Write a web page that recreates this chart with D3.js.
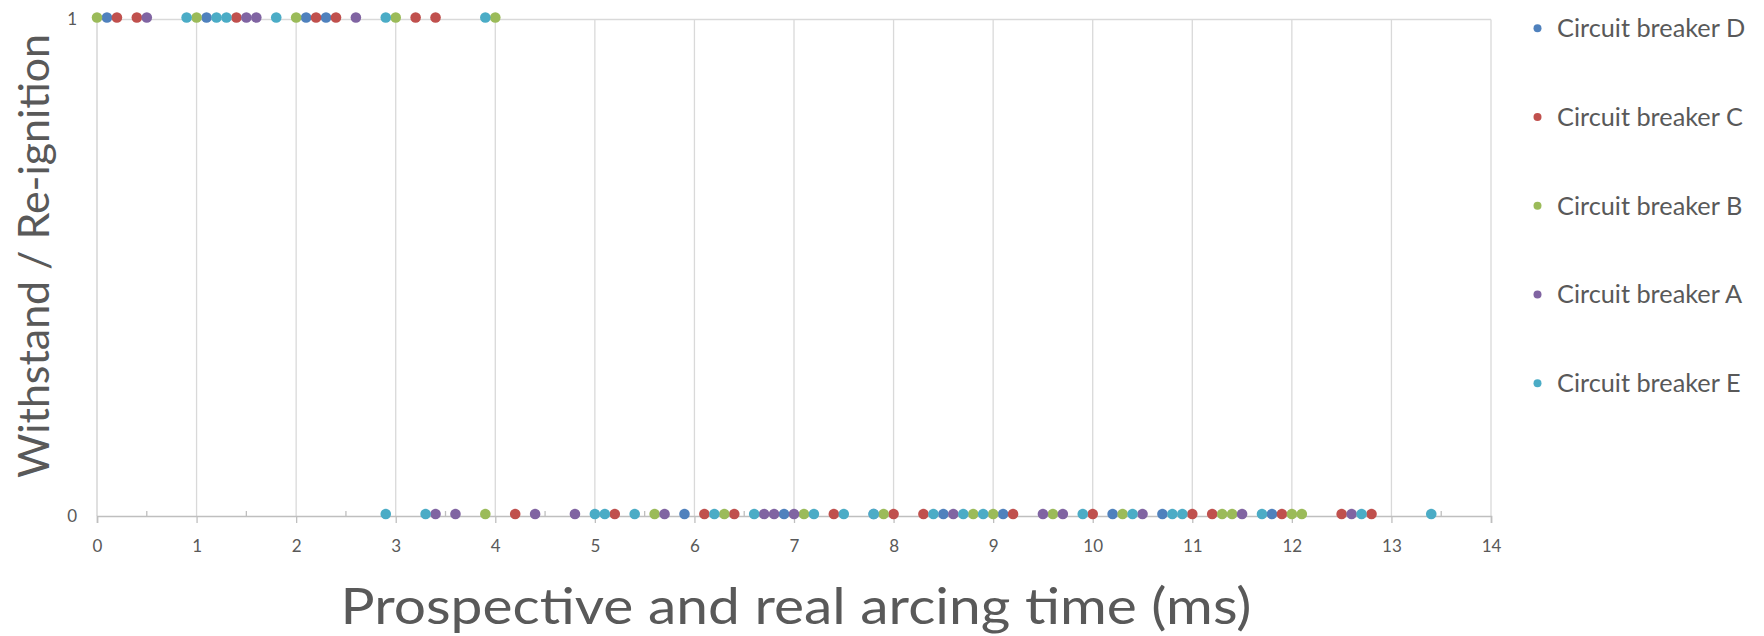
<!DOCTYPE html>
<html>
<head>
<meta charset="utf-8">
<script src="https://cdn.jsdelivr.net/npm/d3@7"></script>
<style>
  html, body { margin: 0; padding: 0; background: #ffffff; }
  svg { display: block; }
  text { font-family: Lato, "Open Sans", sans-serif; fill: #595959; }
</style>
</head>
<body>
<div id="chart"></div>
<script>
// Series, in legend order
const seriesNames = ["Circuit breaker D", "Circuit breaker C", "Circuit breaker B", "Circuit breaker A", "Circuit breaker E"];
const seriesColors = ["#4f81bd", "#c0504d", "#9bbb59", "#8064a2", "#4bacc6"];

// Arcing times (ms) with a withstand (1)
const withstandD = [0.1, 1.1, 2.1, 2.3];
const withstandC = [0.2, 0.4, 1.4, 2.2, 2.4, 3.2, 3.4];
const withstandB = [0.0, 1.0, 2.0, 3.0, 4.0];
const withstandA = [0.5, 1.5, 1.6, 2.6];
const withstandE = [0.9, 1.2, 1.3, 1.8, 2.9, 3.9];

// Arcing times (ms) with a re-ignition (0)
const reignitionD = [5.9, 6.9, 7.8, 8.5, 9.1, 10.2, 10.7, 11.8];
const reignitionC = [4.2, 5.2, 6.1, 6.4, 7.4, 8.0, 8.3, 9.2, 10.0, 11.0, 11.2, 11.9, 12.5, 12.8];
const reignitionB = [3.9, 5.6, 6.3, 7.1, 7.9, 8.8, 9.0, 9.6, 10.3, 11.3, 11.4, 12.0, 12.1];
const reignitionA = [3.4, 3.6, 4.4, 4.8, 5.7, 6.7, 6.8, 7.0, 8.6, 9.5, 9.7, 10.5, 11.5, 12.6];
const reignitionE = [2.9, 3.3, 5.0, 5.1, 5.4, 6.2, 6.6, 7.2, 7.5, 7.8, 8.4, 8.7, 8.9, 9.9, 10.4, 10.8, 10.9, 11.7, 12.7, 13.4];

const xTicks = [0, 1, 2, 3, 4, 5, 6, 7, 8, 9, 10, 11, 12, 13, 14];
const yTicks = [0, 1];
const xTitle = "Prospective and real arcing time (ms)";
const yTitle = "Withstand / Re-ignition";

const withstand = [withstandD, withstandC, withstandB, withstandA, withstandE];
const reignition = [reignitionD, reignitionC, reignitionB, reignitionA, reignitionE];

const series = seriesNames.map((name, i) => ({
  name,
  color: seriesColors[i],
  points: withstand[i].map(t => ({ x: t, y: 1 }))
    .concat(reignition[i].map(t => ({ x: t, y: 0 })))
}));

const W = 1764, H = 636;
const svg = d3.select("#chart").append("svg")
  .attr("width", W).attr("height", H);

svg.append("rect").attr("width", W).attr("height", H).attr("fill", "#ffffff");

const x = d3.scaleLinear().domain([0, 14]).range([97, 1491]);
const y = d3.scaleLinear().domain([0, 1]).range([516, 19.5]);

// Vertical gridlines
svg.append("g")
  .selectAll("line")
  .data(xTicks.filter(d => d > 0))
  .join("line")
  .attr("x1", d => x(d)).attr("x2", d => x(d))
  .attr("y1", y(0)).attr("y2", y(1))
  .attr("stroke", "#d9d9d9").attr("stroke-width", 1.3);

// Horizontal gridline at 1
svg.append("g")
  .selectAll("line")
  .data(yTicks.filter(d => d > 0))
  .join("line")
  .attr("x1", x(0)).attr("x2", x(14))
  .attr("y1", d => y(d)).attr("y2", d => y(d))
  .attr("stroke", "#d9d9d9").attr("stroke-width", 1.3);

// Vertical axis line
svg.append("line")
  .attr("x1", x(0)).attr("x2", x(0))
  .attr("y1", y(0)).attr("y2", y(1))
  .attr("stroke", "#d0d0d0").attr("stroke-width", 1.3);

// Horizontal axis with major ticks below, minor ticks above
const xAxis = svg.append("g").attr("transform", `translate(0,${y(0)})`)
  .call(d3.axisBottom(x).tickValues(xTicks).tickSize(7).tickPadding(17)
    .tickFormat(d3.format("d")));
xAxis.select(".domain").attr("stroke", "#bfbfbf").attr("stroke-width", 1.6);
xAxis.selectAll(".tick line").attr("stroke", "#bfbfbf").attr("stroke-width", 1.3);
xAxis.selectAll(".tick text")
  .attr("font-size", 17).attr("fill", "#595959")
  .style("font-family", "Lato, sans-serif");

const minorTicks = d3.range(0.5, 14, 1);
svg.append("g")
  .selectAll("line")
  .data(minorTicks)
  .join("line")
  .attr("x1", d => x(d)).attr("x2", d => x(d))
  .attr("y1", y(0)).attr("y2", y(0) - 5)
  .attr("stroke", "#bfbfbf").attr("stroke-width", 1.3);

// Vertical axis labels
const yAxis = svg.append("g").attr("transform", `translate(${x(0)},0)`)
  .call(d3.axisLeft(y).tickValues(yTicks).tickSize(0).tickPadding(20)
    .tickFormat(d3.format("d")));
yAxis.select(".domain").remove();
yAxis.selectAll(".tick text")
  .attr("font-size", 17).attr("fill", "#595959")
  .style("font-family", "Lato, sans-serif");

// Points, drawn series by series
const dots = svg.append("g").attr("transform", "translate(0,-2)");
series.forEach(s => {
  dots.append("g")
    .selectAll("circle")
    .data(s.points)
    .join("circle")
    .attr("cx", d => x(d.x))
    .attr("cy", d => y(d.y))
    .attr("r", 5.3)
    .attr("fill", s.color);
});

// Axis titles
svg.append("text")
  .attr("x", 796).attr("y", 624)
  .attr("text-anchor", "middle")
  .attr("font-size", 50)
  .attr("textLength", 911)
  .attr("lengthAdjust", "spacingAndGlyphs")
  .text(xTitle);

svg.append("text")
  .attr("transform", "translate(49,256) rotate(-90)")
  .attr("text-anchor", "middle")
  .attr("font-size", 42)
  .attr("textLength", 444)
  .attr("lengthAdjust", "spacingAndGlyphs")
  .text(yTitle);

// Legend
const legend = svg.append("g");
const legendY = d3.scaleLinear().domain([0, 4]).range([28.3, 383.3]);
series.forEach((s, i) => {
  const row = legend.append("g").attr("transform", `translate(0,${legendY(i)})`);
  row.append("circle").attr("cx", 1537.5).attr("cy", 0).attr("r", 4).attr("fill", s.color);
  row.append("text")
    .attr("x", 1557).attr("y", 0).attr("dy", "0.35em")
    .attr("font-size", 25.3)
    .text(s.name);
});
</script>
</body>
</html>
